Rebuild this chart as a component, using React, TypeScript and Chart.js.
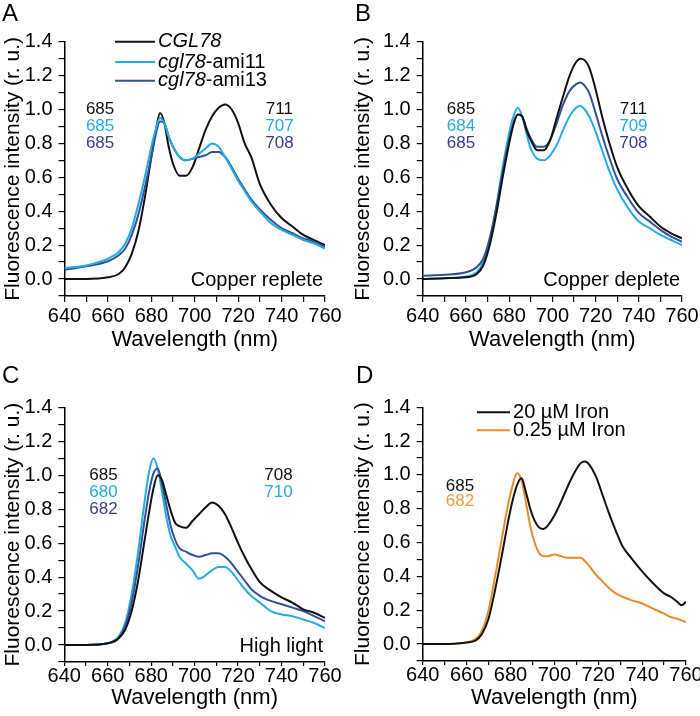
import React, { useEffect, useRef } from "react";
import { Chart, registerables } from "chart.js";

Chart.register(...registerables);

const FONT = '"Liberation Sans", Arial, Helvetica, sans-serif';
const BLACK = "#111111";
const CYAN = "#27aae1";
const NAVY = "#31509a";
const NAVY_TEXT = "#3a3d92";
const ORANGE = "#ea8b2b";
const ORANGE_TEXT = "#ef9a45";

// ---------- Panel A: Copper replete ----------
const A_WL = [640, 650, 660, 665, 668, 671, 674, 677, 680, 682, 684, 686, 688, 690, 693, 696, 699, 702, 705, 708, 711, 714, 717, 720, 723, 726, 730, 735, 740, 745, 750, 755, 760];
const A_CGL78 = [0.0, 0.0, 0.01, 0.03, 0.07, 0.15, 0.28, 0.48, 0.72, 0.87, 0.98, 0.92, 0.78, 0.68, 0.61, 0.61, 0.66, 0.77, 0.88, 0.96, 1.01, 1.03, 1.0, 0.92, 0.8, 0.72, 0.56, 0.44, 0.36, 0.31, 0.26, 0.23, 0.2];
const A_AMI11 = [0.065, 0.08, 0.12, 0.16, 0.21, 0.3, 0.44, 0.6, 0.78, 0.88, 0.95, 0.92, 0.84, 0.78, 0.72, 0.7, 0.71, 0.74, 0.77, 0.8, 0.78, 0.72, 0.65, 0.58, 0.52, 0.46, 0.4, 0.33, 0.29, 0.26, 0.23, 0.21, 0.18];
const A_AMI13 = [0.055, 0.075, 0.105, 0.14, 0.18, 0.26, 0.38, 0.54, 0.72, 0.85, 0.93, 0.92, 0.84, 0.78, 0.72, 0.7, 0.71, 0.72, 0.73, 0.75, 0.75, 0.72, 0.66, 0.59, 0.53, 0.47, 0.41, 0.35, 0.3, 0.27, 0.24, 0.22, 0.19];

// ---------- Panel B: Copper deplete ----------
const B_WL = [640, 650, 660, 665, 668, 671, 674, 677, 680, 682, 684, 686, 688, 690, 693, 696, 699, 702, 705, 708, 711, 713, 715, 717, 720, 723, 726, 730, 735, 740, 745, 750, 755, 760];
const B_CGL78 = [0.0, 0.005, 0.01, 0.03, 0.08, 0.2, 0.38, 0.6, 0.8, 0.91, 0.97, 0.96, 0.88, 0.82, 0.76, 0.76, 0.82, 0.95, 1.08, 1.2, 1.28, 1.3, 1.29, 1.25, 1.12, 0.96, 0.82, 0.66, 0.53, 0.43, 0.37, 0.31, 0.27, 0.24];
const B_AMI11 = [0.0, 0.005, 0.015, 0.04, 0.1, 0.22, 0.42, 0.66, 0.86, 0.96, 1.01, 0.96, 0.86, 0.77, 0.71, 0.7, 0.73, 0.79, 0.88, 0.96, 1.01, 1.02, 1.0, 0.96, 0.87, 0.76, 0.65, 0.53, 0.42, 0.34, 0.3, 0.26, 0.23, 0.2];
const B_AMI13 = [0.02, 0.025, 0.04, 0.07, 0.12, 0.24, 0.42, 0.63, 0.82, 0.92, 0.97, 0.96, 0.89, 0.83, 0.78, 0.78, 0.82, 0.92, 1.03, 1.11, 1.15, 1.16, 1.14, 1.1, 0.98, 0.85, 0.73, 0.59, 0.48, 0.39, 0.34, 0.29, 0.25, 0.22];

// ---------- Panel C: High light ----------
const C_WL = [640, 650, 660, 665, 668, 671, 674, 677, 679, 681, 683, 685, 687, 689, 691, 693, 696, 699, 702, 705, 708, 711, 714, 717, 720, 723, 726, 730, 735, 740, 745, 750, 755, 760];
const C_CGL78 = [0.0, 0.0, 0.01, 0.04, 0.09, 0.2, 0.38, 0.62, 0.78, 0.92, 1.0, 0.97, 0.88, 0.79, 0.72, 0.7, 0.69, 0.73, 0.77, 0.81, 0.84, 0.82, 0.77, 0.69, 0.6, 0.52, 0.45, 0.37, 0.32, 0.28, 0.25, 0.21, 0.19, 0.16];
const C_AMI11 = [0.0, 0.0, 0.01, 0.05, 0.13, 0.3, 0.55, 0.85, 1.02, 1.1, 1.04, 0.9, 0.75, 0.64, 0.58, 0.52, 0.48, 0.44, 0.39, 0.41, 0.44, 0.46, 0.46, 0.43, 0.38, 0.33, 0.29, 0.25, 0.2, 0.18, 0.17, 0.15, 0.13, 0.1];
const C_AMI13 = [0.0, 0.0, 0.01, 0.04, 0.11, 0.25, 0.47, 0.74, 0.9, 1.01, 1.04, 0.95, 0.82, 0.7, 0.62, 0.57, 0.55, 0.53, 0.52, 0.53, 0.54, 0.54, 0.52, 0.48, 0.43, 0.38, 0.33, 0.29, 0.26, 0.24, 0.22, 0.2, 0.17, 0.14];

// ---------- Panel D: Iron ----------
const D_WL = [640, 650, 660, 664, 667, 670, 673, 676, 679, 681, 683, 685, 687, 689, 691, 693, 695, 697, 700, 703, 706, 709, 712, 714, 716, 719, 722, 725, 728, 731, 735, 740, 745, 750, 753, 756, 758, 760];
const D_IRON20 = [0.0, 0.0, 0.01, 0.02, 0.06, 0.15, 0.32, 0.52, 0.73, 0.85, 0.94, 0.98, 0.9, 0.8, 0.73, 0.69, 0.68, 0.7, 0.76, 0.84, 0.93, 1.01, 1.07, 1.08, 1.06, 0.99, 0.88, 0.77, 0.67, 0.58, 0.51, 0.43, 0.36, 0.3, 0.28, 0.25, 0.23, 0.25];
const D_IRON025 = [0.0, 0.0, 0.01, 0.03, 0.08, 0.2, 0.4, 0.62, 0.83, 0.94, 1.01, 0.97, 0.84, 0.7, 0.6, 0.54, 0.52, 0.52, 0.53, 0.52, 0.51, 0.51, 0.51, 0.49, 0.46, 0.41, 0.37, 0.33, 0.3, 0.28, 0.26, 0.24, 0.21, 0.18, 0.16, 0.15, 0.14, 0.13];

// Axis ticks
const X_MIN = 640, X_MAX = 760, X_STEP = 10, X_LABEL_EVERY = 20;
const Y_MIN = -0.1, Y_MAX = 1.4, Y_STEP = 0.1;

type Part = { t: string; i?: boolean };
type LegendItem = { parts: Part[]; color: string };
type Note = { text: string; x: number; y: number; color: string };
type Series = { label: string; wl: number[]; v: number[]; color: string };

type PanelDef = {
  letter: string;
  left: number; top: number; w: number; h: number;
  areaLeft: number; areaRight: number; areaTop: number; areaBottom: number;
  xTickLen: number; xTickPad: number; xLineHeight: number;
  letterX: number; letterY: number;
  series: Series[];
  condition?: string;
  legend: LegendItem[];
  legendX0: number; legendX1: number; legendYs: number[];
  notes: Note[];
};

const PANELS: PanelDef[] = [
  {
    letter: "A", left: 0, top: 0, w: 350, h: 358,
    areaLeft: 64.5, areaRight: 325, areaTop: 41.7, areaBottom: 296,
    xTickLen: 6, xTickPad: 2, xLineHeight: 1.2,
    letterX: 2, letterY: 2,
    series: [
      { label: "cgl78-ami11", wl: A_WL, v: A_AMI11, color: CYAN },
      { label: "cgl78-ami13", wl: A_WL, v: A_AMI13, color: NAVY },
      { label: "CGL78", wl: A_WL, v: A_CGL78, color: BLACK },
    ],
    condition: "Copper replete",
    legend: [
      { parts: [{ t: "CGL78", i: true }], color: BLACK },
      { parts: [{ t: "cgl78", i: true }, { t: "-ami11" }], color: CYAN },
      { parts: [{ t: "cgl78", i: true }, { t: "-ami13" }], color: NAVY },
    ],
    legendX0: 663.3, legendX1: 681.7, legendYs: [1.4, 1.28, 1.17],
    notes: [
      { text: "685", x: 656.4, y: 1.0, color: BLACK },
      { text: "685", x: 656.4, y: 0.9, color: CYAN },
      { text: "685", x: 656.4, y: 0.8, color: NAVY_TEXT },
      { text: "711", x: 739, y: 1.0, color: BLACK },
      { text: "707", x: 739, y: 0.9, color: CYAN },
      { text: "708", x: 739, y: 0.8, color: NAVY_TEXT },
    ],
  },
  {
    letter: "B", left: 350, top: 0, w: 350, h: 358,
    areaLeft: 72.7, areaRight: 332, areaTop: 41.7, areaBottom: 296,
    xTickLen: 6, xTickPad: 2, xLineHeight: 1.2,
    letterX: 5, letterY: 2,
    series: [
      { label: "CGL78", wl: B_WL, v: B_CGL78, color: BLACK },
      { label: "cgl78-ami13", wl: B_WL, v: B_AMI13, color: NAVY },
      { label: "cgl78-ami11", wl: B_WL, v: B_AMI11, color: CYAN },
    ],
    condition: "Copper deplete",
    legend: [], legendX0: 0, legendX1: 0, legendYs: [],
    notes: [
      { text: "685", x: 657.7, y: 1.0, color: BLACK },
      { text: "684", x: 657.7, y: 0.9, color: CYAN },
      { text: "685", x: 657.7, y: 0.8, color: NAVY_TEXT },
      { text: "711", x: 737.5, y: 1.0, color: BLACK },
      { text: "709", x: 737.5, y: 0.9, color: CYAN },
      { text: "708", x: 737.5, y: 0.8, color: NAVY_TEXT },
    ],
  },
  {
    letter: "C", left: 0, top: 358, w: 350, h: 358,
    areaLeft: 64.3, areaRight: 325, areaTop: 49.3, areaBottom: 304,
    xTickLen: 4, xTickPad: 0, xLineHeight: 1.0,
    letterX: 2, letterY: 6,
    series: [
      { label: "CGL78", wl: C_WL, v: C_CGL78, color: BLACK },
      { label: "cgl78-ami13", wl: C_WL, v: C_AMI13, color: NAVY },
      { label: "cgl78-ami11", wl: C_WL, v: C_AMI11, color: CYAN },
    ],
    condition: "High light",
    legend: [], legendX0: 0, legendX1: 0, legendYs: [],
    notes: [
      { text: "685", x: 658, y: 1.0, color: BLACK },
      { text: "680", x: 658, y: 0.9, color: CYAN },
      { text: "682", x: 658, y: 0.8, color: NAVY_TEXT },
      { text: "708", x: 738.6, y: 1.0, color: BLACK },
      { text: "710", x: 738.6, y: 0.9, color: CYAN },
    ],
  },
  {
    letter: "D", left: 350, top: 358, w: 350, h: 358,
    areaLeft: 72.7, areaRight: 336, areaTop: 49.3, areaBottom: 303,
    xTickLen: 4, xTickPad: 0, xLineHeight: 1.0,
    letterX: 6, letterY: 6,
    series: [
      { label: "20 µM Iron", wl: D_WL, v: D_IRON20, color: BLACK },
      { label: "0.25 µM Iron", wl: D_WL, v: D_IRON025, color: ORANGE },
    ],
    legend: [
      { parts: [{ t: "20 µM Iron" }], color: BLACK },
      { parts: [{ t: "0.25 µM Iron" }], color: ORANGE },
    ],
    legendX0: 664.7, legendX1: 679.8, legendYs: [1.37, 1.265],
    notes: [
      { text: "685", x: 657, y: 0.935, color: BLACK },
      { text: "682", x: 657, y: 0.845, color: ORANGE_TEXT },
    ],
  },
];

function makeOverlay(p: PanelDef) {
  return {
    id: "overlay" + p.letter,
    afterDraw(chart: any) {
      const { ctx, chartArea, scales } = chart;
      const xs = scales.x, ys = scales.y;
      ctx.save();
      // panel letter
      ctx.fillStyle = "#000";
      ctx.textAlign = "left";
      ctx.textBaseline = "top";
      ctx.font = `24px ${FONT}`;
      ctx.fillText(p.letter, p.letterX, p.letterY);
      // condition label
      if (p.condition) {
        ctx.font = `20px ${FONT}`;
        ctx.textAlign = "right";
        ctx.textBaseline = "middle";
        ctx.fillText(p.condition, chartArea.right - 2, ys.getPixelForValue(-0.01));
      }
      // peak annotations
      ctx.font = `17px ${FONT}`;
      ctx.textAlign = "center";
      ctx.textBaseline = "middle";
      for (const n of p.notes) {
        ctx.fillStyle = n.color;
        ctx.fillText(n.text, xs.getPixelForValue(n.x), ys.getPixelForValue(n.y));
      }
      // legend
      p.legend.forEach((item, k) => {
        const yy = ys.getPixelForValue(p.legendYs[k]);
        const x0 = xs.getPixelForValue(p.legendX0);
        const x1 = xs.getPixelForValue(p.legendX1);
        ctx.strokeStyle = item.color;
        ctx.lineWidth = 2;
        ctx.beginPath();
        ctx.moveTo(x0, yy);
        ctx.lineTo(x1, yy);
        ctx.stroke();
        let tx = x1 + 3;
        ctx.fillStyle = "#000";
        ctx.textAlign = "left";
        ctx.textBaseline = "middle";
        for (const part of item.parts) {
          ctx.font = `${part.i ? "italic " : ""}normal 20px ${FONT}`;
          ctx.fillText(part.t, tx, yy);
          tx += ctx.measureText(part.t).width;
        }
      });
      ctx.restore();
    },
  };
}

function Panel({ p }: { p: PanelDef }) {
  const ref = useRef<HTMLCanvasElement | null>(null);
  useEffect(() => {
    if (!ref.current) return;
    const chart = new Chart(ref.current, {
      type: "line",
      data: {
        datasets: p.series.map((s) => ({
          label: s.label,
          data: s.wl.map((w, i) => ({ x: w, y: s.v[i] })),
          borderColor: s.color,
          backgroundColor: s.color,
          borderWidth: 2,
          pointRadius: 0,
          fill: false,
          cubicInterpolationMode: "monotone" as const,
        })),
      },
      options: {
        responsive: false,
        animation: false,
        devicePixelRatio: 1,
        layout: { padding: { top: p.areaTop, right: p.w - p.areaRight, left: 0, bottom: 0 } },
        plugins: { legend: { display: false }, tooltip: { enabled: false } },
        scales: {
          x: {
            type: "linear",
            min: X_MIN,
            max: X_MAX,
            ticks: {
              stepSize: X_STEP,
              autoSkip: false,
              maxRotation: 0,
              padding: p.xTickPad,
              color: "#000",
              font: { size: 20, family: FONT, lineHeight: p.xLineHeight },
              callback: (v: any) => (Math.round(v) % X_LABEL_EVERY === 0 ? String(Math.round(v)) : ""),
            },
            grid: { drawOnChartArea: false, drawTicks: true, tickLength: p.xTickLen, color: "#000", lineWidth: 1.2 },
            border: { display: true, color: "#000", width: 1.5 },
            title: {
              display: true,
              text: "Wavelength (nm)",
              color: "#000",
              font: { size: 22, family: FONT },
              padding: { top: 0, bottom: 5 },
            },
            afterFit: (s: any) => {
              s.height = p.h - p.areaBottom;
              s.paddingLeft = 0;
              s.paddingRight = 0;
            },
          },
          y: {
            type: "linear",
            min: Y_MIN,
            max: Y_MAX,
            ticks: {
              stepSize: Y_STEP,
              autoSkip: false,
              padding: 6,
              color: "#000",
              font: { size: 20, family: FONT },
              callback: (v: any) => {
                const n = Math.round(v * 10);
                return n >= 0 && n % 2 === 0 ? (n / 10).toFixed(1) : "";
              },
            },
            grid: { drawOnChartArea: false, drawTicks: true, tickLength: 6, color: "#000", lineWidth: 1.2 },
            border: { display: true, color: "#000", width: 1.5 },
            title: {
              display: true,
              text: "Fluorescence intensity (r. u.)",
              color: "#000",
              font: { size: 21, family: FONT },
              padding: { top: 1, bottom: 0 },
            },
            afterFit: (s: any) => {
              s.width = p.areaLeft;
              s.paddingTop = 0;
              s.paddingBottom = 0;
            },
          },
        },
      },
      plugins: [makeOverlay(p)],
    } as any);
    return () => chart.destroy();
  }, [p]);
  return (
    <canvas
      ref={ref}
      width={p.w}
      height={p.h}
      style={{ position: "absolute", left: p.left, top: p.top, width: p.w, height: p.h }}
    />
  );
}

export default function App() {
  return (
    <div style={{ position: "absolute", left: 0, top: 0, width: 700, height: 716, background: "#fff" }}>
      {PANELS.map((p) => (
        <Panel key={p.letter} p={p} />
      ))}
    </div>
  );
}
